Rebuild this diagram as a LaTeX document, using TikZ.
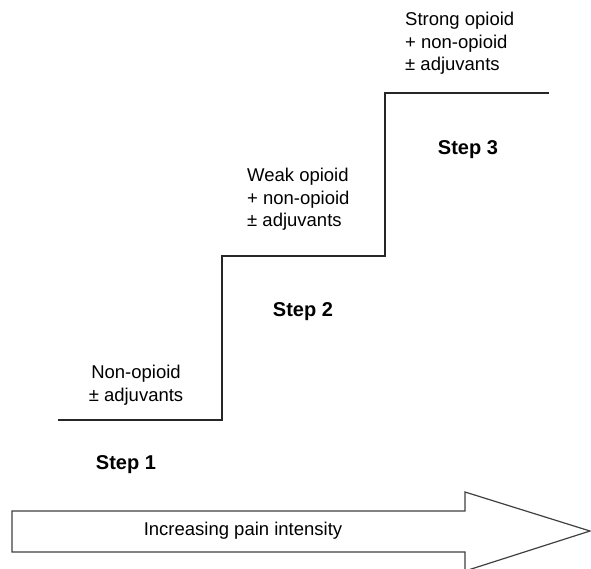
\documentclass[tikz,border=0pt]{standalone}
\usepackage{fontspec}
\setmainfont{Liberation Sans}

\tikzset{
  steplabel/.style={font=\fontsize{20}{24}\selectfont\bfseries, inner sep=0pt},
  druglist/.style={font=\fontsize{18.5}{22.5}\selectfont, align=left, inner sep=0pt},
  ladder/.style={line width=1.6pt, black!85},
  painarrow/.style={line width=1.2pt, draw=black!75, fill=white}
}

\begin{document}
\begin{tikzpicture}[x=1pt,y=-1pt]
    \useasboundingbox (0,0) rectangle (591,568);

    % the ladder
    \coordinate (s1) at (58,420);
    \coordinate (s2) at (222,256);
    \coordinate (s3) at (385,93);
    \coordinate (s4) at (549,93);
    \draw[ladder] (s1) -- (s1 -| s2) -- (s2) -- (s2 -| s3) -- (s3) -- (s4);

    \node[druglist, align=center, anchor=north] (drugone) at (136,365) {Non-opioid\\± adjuvants};
    \node[druglist, anchor=north west] (drugtwo) at (247,168) {Weak opioid\\+ non-opioid\\± adjuvants};
    \node[druglist, anchor=north west] (drugthree) at (405,12) {Strong opioid\\+ non-opioid\\± adjuvants};

    \node[steplabel] (stepone) at (126,465) {Step 1};
    \node[steplabel] (steptwo) at (303,312) {Step 2};
    \node[steplabel] (stepthree) at (468,150) {Step 3};

    % pain intensity arrow
    \draw[painarrow] (12,511) -- (465,511) -- (465,492) -- (590,531)
        -- (465,571) -- (465,552) -- (12,552) -- cycle;
    \node[font=\fontsize{18.5}{22}\selectfont] (pain) at (243,531) {Increasing pain intensity};
\end{tikzpicture}
\end{document}
